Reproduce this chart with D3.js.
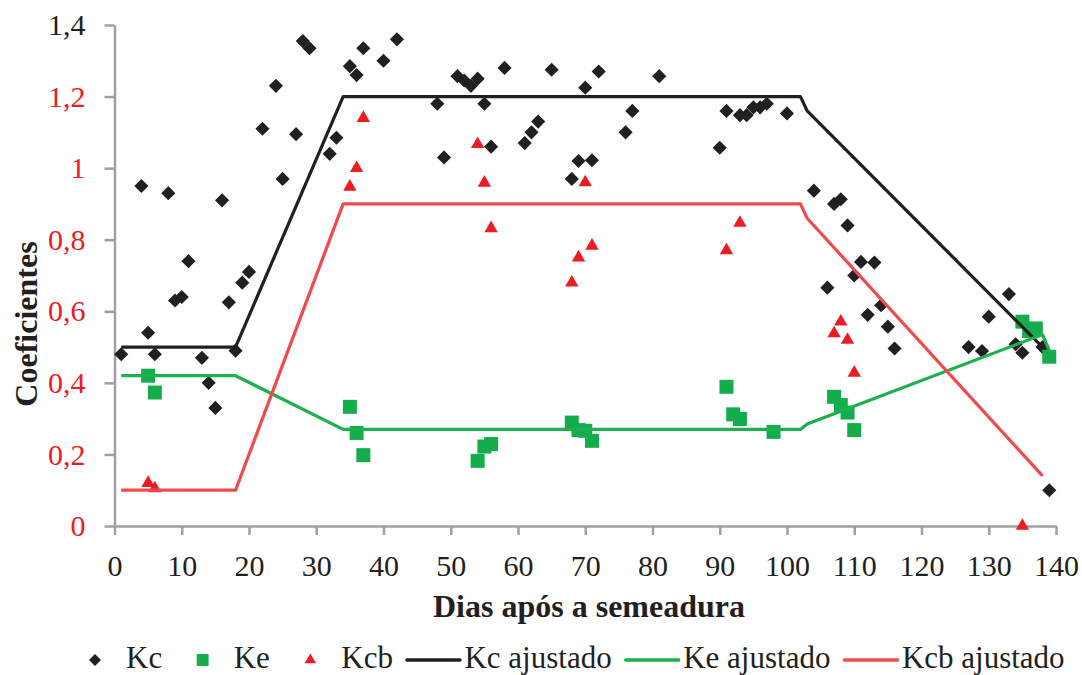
<!DOCTYPE html>
<html>
<head>
<meta charset="utf-8">
<script src="https://cdn.jsdelivr.net/npm/d3@7"></script>
<style>
    body { margin: 0; background: #fff; }
    svg { display: block; font-family: "Liberation Serif", "Times New Roman", serif; }
</style>
</head>
<body>
<svg id="chart" width="1082" height="675"></svg>
<script>
// Observed coefficients (day after sowing, value)
const kcDays = [1, 4, 5, 6, 8, 9, 10, 11, 13, 14, 15, 16, 17, 18, 19, 20, 22, 24, 25, 27, 28, 29, 32, 33, 35, 36, 37, 40, 42,
    48, 49, 51, 52, 53, 54, 55, 56, 58, 61, 62, 63, 65, 68, 69, 70, 71, 72, 76, 77, 81,
    90, 91, 93, 94, 95, 96, 97, 100, 104, 106, 107, 108, 109, 110, 111, 112, 113, 114, 115, 116,
    127, 129, 130, 133, 134, 135, 138, 139];
const kcValues = [0.48, 0.95, 0.54, 0.48, 0.93, 0.63, 0.64, 0.74, 0.47, 0.40, 0.33, 0.91, 0.625, 0.49, 0.68, 0.71, 1.11, 1.23, 0.97, 1.095, 1.355, 1.335, 1.04, 1.085, 1.285, 1.26, 1.335, 1.30, 1.36,
    1.18, 1.03, 1.257, 1.245, 1.23, 1.25, 1.18, 1.06, 1.28, 1.07, 1.10, 1.13, 1.275, 0.97, 1.02, 1.225, 1.022, 1.27, 1.10, 1.16, 1.257,
    1.057, 1.16, 1.148, 1.148, 1.17, 1.17, 1.18, 1.153, 0.937, 0.666, 0.90, 0.913, 0.84, 0.70, 0.738, 0.59, 0.736, 0.617, 0.557, 0.496,
    0.50, 0.489, 0.585, 0.648, 0.508, 0.484, 0.50, 0.10];

const keDays = [5, 6, 35, 36, 37, 54, 55, 56, 68, 69, 70, 71, 91, 92, 93, 98, 107, 108, 109, 110, 135, 136, 137, 139];
const keValues = [0.42, 0.373, 0.333, 0.26, 0.198, 0.182, 0.222, 0.229, 0.289, 0.268, 0.266, 0.238, 0.389, 0.312, 0.299, 0.263, 0.361, 0.338, 0.317, 0.268, 0.571, 0.545, 0.552, 0.473];

const kcbDays = [5, 6, 35, 36, 37, 54, 55, 56, 68, 69, 70, 71, 91, 93, 107, 108, 109, 110, 135];
const kcbValues = [0.12, 0.105, 0.948, 1.0, 1.14, 1.067, 0.959, 0.832, 0.68, 0.75, 0.96, 0.783, 0.77, 0.847, 0.538, 0.571, 0.52, 0.428, 0];

// Adjusted curves (break points)
const kcFitDays = [1, 18, 34, 102, 103, 138];
const kcFitValues = [0.5, 0.5, 1.2, 1.2, 1.16, 0.5];
const keFitDays = [1, 18, 34, 102, 103, 138, 139];
const keFitValues = [0.42, 0.42, 0.27, 0.27, 0.285, 0.535, 0.49];
const kcbFitDays = [1, 18, 34, 102, 103, 138];
const kcbFitValues = [0.1, 0.1, 0.9, 0.9, 0.86, 0.14];

const xTicks = [0, 10, 20, 30, 40, 50, 60, 70, 80, 90, 100, 110, 120, 130, 140];
const yTicks = [0, 0.2, 0.4, 0.6, 0.8, 1.0, 1.2, 1.4];
const yTickLabels = ['0', '0,2', '0,4', '0,6', '0,8', '1', '1,2', '1,4'];

const BLACK = '#231f20';
const GREEN = '#14ad4c';
const RED = '#ed1c24';
const RED_LINE = '#ef4b4e';
const GREEN_LINE = '#1cb04f';
const AXIS = '#a0a0a4';
const FONT = '"Liberation Serif", "Times New Roman", serif';

const svg = d3.select('#chart');

const x = d3.scaleLinear().domain([0, 140]).range([114.5, 1056]);
const y = d3.scaleLinear().domain([0, 1.4]).range([526, 25]);

// Y axis
const yAxis = svg.append('g')
    .attr('transform', `translate(${x(0)},0)`)
    .call(d3.axisLeft(y).tickValues(yTicks).tickSize(10).tickSizeOuter(0).tickPadding(19)
        .tickFormat((d, i) => yTickLabels[i]));
yAxis.attr('font-family', FONT);
yAxis.select('.domain').attr('stroke', AXIS).attr('stroke-width', 2.5);
yAxis.selectAll('.tick line').attr('stroke', AXIS).attr('stroke-width', 2.5);
yAxis.selectAll('.tick text')
    .style('font-size', '30px')
    .style('font-family', FONT)
    .attr('fill', (d, i) => i === yTicks.length - 1 ? BLACK : RED);

// X axis
const xAxis = svg.append('g')
    .attr('transform', `translate(0,${y(0)})`)
    .call(d3.axisBottom(x).tickValues(xTicks).tickSize(9).tickSizeOuter(0).tickFormat(d3.format('d')));
xAxis.attr('font-family', FONT);
xAxis.select('.domain').attr('stroke', AXIS).attr('stroke-width', 2.5);
xAxis.selectAll('.tick line').attr('stroke', AXIS).attr('stroke-width', 2.5);
xAxis.selectAll('.tick text')
    .attr('y', 50).attr('dy', null)
    .attr('fill', BLACK)
    .style('font-size', '30px')
    .style('font-family', FONT);

// Axis titles
svg.append('text')
    .attr('x', 589).attr('y', 617)
    .attr('text-anchor', 'middle')
    .style('font-family', FONT)
    .style('font-size', '32px').style('font-weight', 'bold')
    .attr('fill', BLACK)
    .text('Dias após a semeadura');

svg.append('text')
    .attr('transform', 'translate(37,324) rotate(-90)')
    .attr('text-anchor', 'middle')
    .style('font-family', FONT)
    .style('font-size', '32px').style('font-weight', 'bold')
    .attr('fill', BLACK)
    .text('Coeficientes');

// Marker shapes
const diamond = d3.symbol().type(d3.symbolSquare).size(100);
const square = d3.symbol().type(d3.symbolSquare).size(196);
const triangle = d3.symbol().type(d3.symbolTriangle).size(78);

const zip = (a, b) => a.map((d, i) => [d, b[i]]);

const series = [
    { name: 'Kc', data: zip(kcDays, kcValues), path: diamond, rotate: 45, color: BLACK },
    { name: 'Ke', data: zip(keDays, keValues), path: square, rotate: 0, color: GREEN },
    { name: 'Kcb', data: zip(kcbDays, kcbValues), path: triangle, rotate: 0, color: RED }
];

series.forEach(s => {
    svg.append('g').selectAll('path')
        .data(s.data)
        .enter()
        .append('path')
        .attr('d', s.path())
        .attr('transform', d => `translate(${x(d[0])},${y(d[1])}) rotate(${s.rotate})`)
        .attr('fill', s.color);
});

const fits = [
    { name: 'Kc ajustado', data: zip(kcFitDays, kcFitValues), color: BLACK },
    { name: 'Ke ajustado', data: zip(keFitDays, keFitValues), color: GREEN_LINE },
    { name: 'Kcb ajustado', data: zip(kcbFitDays, kcbFitValues), color: RED_LINE }
];

const line = d3.line().x(d => x(d[0])).y(d => y(d[1]));

fits.forEach(f => {
    svg.append('path')
        .datum(f.data)
        .attr('d', line)
        .attr('fill', 'none')
        .attr('stroke', f.color)
        .attr('stroke-width', 3.2)
        .attr('stroke-linejoin', 'round');
});

// Legend
const legendItems = [
    { label: 'Kc', type: 'marker', s: series[0] },
    { label: 'Ke', type: 'marker', s: series[1] },
    { label: 'Kcb', type: 'marker', s: series[2] },
    { label: 'Kc ajustado', type: 'line', color: BLACK },
    { label: 'Ke ajustado', type: 'line', color: GREEN_LINE },
    { label: 'Kcb ajustado', type: 'line', color: RED_LINE }
];

const legend = svg.append('g');
const slot = 55, legendY = 660;
let cursor = 67.5;

legendItems.forEach(item => {
    if (item.type === 'marker') {
        legend.append('path')
            .attr('d', item.s.path())
            .attr('transform', `translate(${cursor + slot / 2},${legendY}) rotate(${item.s.rotate}) scale(0.85)`)
            .attr('fill', item.s.color);
    } else {
        legend.append('line')
            .attr('x1', cursor + 1).attr('x2', cursor + slot - 1)
            .attr('y1', legendY).attr('y2', legendY)
            .attr('stroke', item.color)
            .attr('stroke-width', 3.5)
            .attr('stroke-linecap', 'round');
    }
    const t = legend.append('text')
        .attr('x', cursor + slot + 3.5)
        .attr('y', 668)
        .style('font-family', FONT)
        .style('font-size', '31px')
        .attr('fill', BLACK)
        .text(item.label);
    cursor += slot + 3.5 + t.node().getComputedTextLength() + 13;
});
</script>
</body>
</html>
